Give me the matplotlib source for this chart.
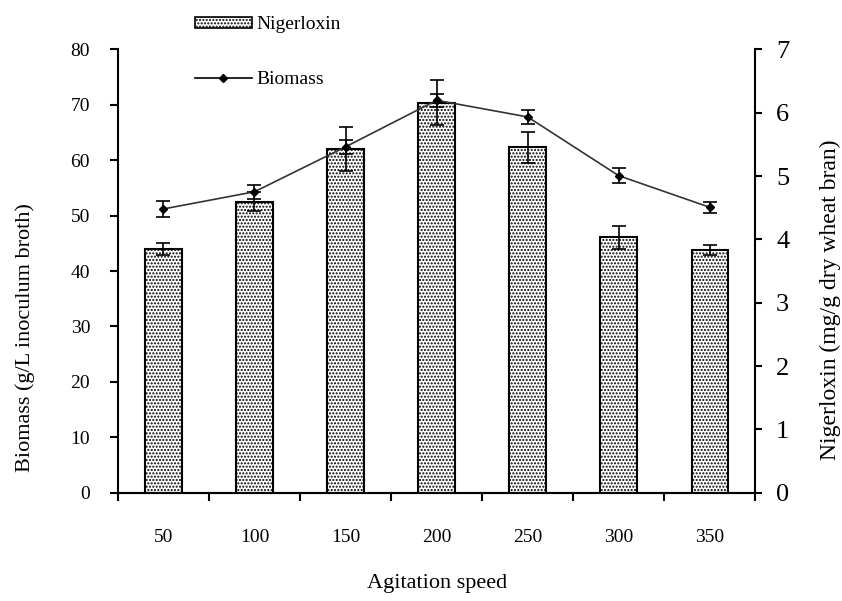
import matplotlib
matplotlib.use('Agg')
import matplotlib.pyplot as plt
import numpy as np
from matplotlib.patches import Patch
from matplotlib.lines import Line2D

plt.rcParams['font.family'] = 'Liberation Serif'
plt.rcParams['hatch.linewidth'] = 1.0

speeds = ['50', '100', '150', '200', '250', '300', '350']
nigerloxin = [3.85, 4.59, 5.43, 6.16, 5.45, 4.03, 3.83]      # mg/g, bars (right axis)
nigerloxin_err = [0.10, 0.15, 0.35, 0.35, 0.25, 0.18, 0.08]
biomass = [51.2, 54.3, 62.4, 70.8, 67.8, 57.2, 51.5]          # g/L, line (left axis)
biomass_err = [1.4, 1.3, 1.3, 1.2, 1.2, 1.3, 1.0]

x = np.arange(len(speeds))

fig = plt.figure(figsize=(8.42, 6.01), dpi=100)
ax = fig.add_axes([0.140, 0.180, 0.757, 0.738])
ax2 = ax.twinx()

ax2.bar(x, nigerloxin, width=0.4, color='white', edgecolor='black', linewidth=1.5,
        hatch='.....', yerr=nigerloxin_err, capsize=5,
        error_kw=dict(elinewidth=1.2, capthick=1.2, ecolor='black'))
ax2.set_ylim(0, 7)

# biomass line drawn above the bars
ax.set_zorder(ax2.get_zorder() + 1)
ax.patch.set_visible(False)
ax.errorbar(x, biomass, yerr=biomass_err, color='#333333', linewidth=1.2,
            marker='D', markersize=4.5, markerfacecolor='black', markeredgecolor='black',
            ecolor='black', elinewidth=1.2, capsize=5, capthick=1.2)
ax.set_ylim(0, 80)
ax.set_xlim(-0.5, len(speeds) - 0.5)

for a in (ax, ax2):
    a.spines['top'].set_visible(False)
    for s in a.spines.values():
        s.set_linewidth(1.5)
ax.spines['right'].set_visible(False)
ax2.spines['left'].set_visible(False)

ax.set_yticks(np.arange(0, 81, 10))
ax2.set_yticks(np.arange(0, 8, 1))
ax.tick_params(axis='y', direction='out', length=6, width=1.5, labelsize=14, pad=14)
ax2.tick_params(axis='y', direction='out', length=5, width=1.5, labelsize=19, pad=10)

ax.set_xticks(np.arange(-0.5, len(speeds), 1.0))
ax.set_xticklabels([])
ax.set_xticks(x, minor=True)
ax.set_xticklabels(speeds, minor=True)
ax.tick_params(axis='x', which='major', direction='out', length=6, width=1.5)
ax.tick_params(axis='x', which='minor', length=0, labelsize=14, pad=26)

ax.set_xlabel('Agitation speed', fontsize=16, labelpad=20)
ax.set_ylabel('Biomass (g/L inoculum broth)', fontsize=16, va='center')
ax.yaxis.set_label_coords(-0.146, 0.35)
ax2.set_ylabel('Nigerloxin (mg/g dry wheat bran)', fontsize=17, va='center')
ax2.yaxis.set_label_coords(1.118, 0.435)

handles = [Patch(facecolor='white', edgecolor='black', hatch='.....', linewidth=1.2),
           Line2D([0], [0], color='black', linewidth=1.2, marker='D', markersize=4.5)]
fig.legend(handles, ['Nigerloxin', 'Biomass'], loc='upper left',
           bbox_to_anchor=(0.211, 1.002), frameon=False, fontsize=14,
           handlelength=2.9, handleheight=0.45, labelspacing=1.95, handletextpad=0.25)

fig.savefig('out.png', dpi=100)
